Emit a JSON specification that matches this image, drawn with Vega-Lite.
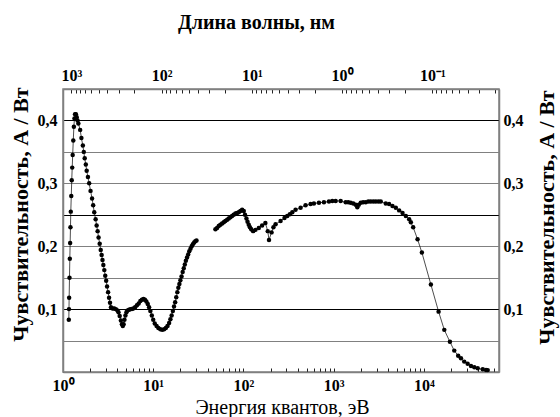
{
  "$schema": "https://vega.github.io/schema/vega-lite/v6.json",
  "width": 436,
  "height": 283,
  "autosize": {"type": "none"},
  "padding": {"left": 63, "top": 89, "right": 61, "bottom": 45},
  "background": "white",
  "config": {"view": {"stroke": "#808080", "strokeWidth": 1.5}, "font": "Liberation Serif"},
  "data": {"values": [
    {"E":1.16,"S":0.083,"seg":"a"},{"E":1.165,"S":0.100,"seg":"a"},{"E":1.17,"S":0.118,"seg":"a"},{"E":1.18,"S":0.150,"seg":"a"},{"E":1.19,"S":0.18,"seg":"a"},{"E":1.20,"S":0.205,"seg":"a"},{"E":1.21,"S":0.23,"seg":"a"},{"E":1.22,"S":0.255,"seg":"a"},{"E":1.235,"S":0.28,"seg":"a"},{"E":1.25,"S":0.305,"seg":"a"},{"E":1.265,"S":0.325,"seg":"a"},{"E":1.28,"S":0.345,"seg":"a"},{"E":1.30,"S":0.368,"seg":"a"},{"E":1.32,"S":0.39,"seg":"a"},{"E":1.34,"S":0.403,"seg":"a"},{"E":1.36,"S":0.41,"seg":"a"},{"E":1.39,"S":0.41,"seg":"a"},{"E":1.42,"S":0.405,"seg":"a"},
    {"E":1.45,"S":0.40,"seg":"a"},{"E":1.48,"S":0.395,"seg":"a"},{"E":1.55,"S":0.385,"seg":"a"},{"E":1.60,"S":0.372,"seg":"a"},{"E":1.66,"S":0.36,"seg":"a"},{"E":1.70,"S":0.35,"seg":"a"},{"E":1.74,"S":0.34,"seg":"a"},{"E":1.79,"S":0.33,"seg":"a"},{"E":1.83,"S":0.32,"seg":"a"},{"E":1.89,"S":0.31,"seg":"a"},{"E":1.95,"S":0.30,"seg":"a"},{"E":2.02,"S":0.288,"seg":"a"},{"E":2.10,"S":0.276,"seg":"a"},{"E":2.16,"S":0.265,"seg":"a"},{"E":2.22,"S":0.254,"seg":"a"},{"E":2.30,"S":0.243,"seg":"a"},{"E":2.36,"S":0.233,"seg":"a"},{"E":2.42,"S":0.224,"seg":"a"},{"E":2.48,"S":0.214,"seg":"a"},{"E":2.55,"S":0.204,"seg":"a"},{"E":2.62,"S":0.194,"seg":"a"},{"E":2.68,"S":0.186,"seg":"a"},{"E":2.74,"S":0.178,"seg":"a"},{"E":2.80,"S":0.170,"seg":"a"},{"E":2.87,"S":0.162,"seg":"a"},{"E":2.94,"S":0.153,"seg":"a"},{"E":3.01,"S":0.145,"seg":"a"},{"E":3.08,"S":0.136,"seg":"a"},{"E":3.16,"S":0.127,"seg":"a"},{"E":3.24,"S":0.118,"seg":"a"},{"E":3.32,"S":0.110,"seg":"a"},{"E":3.40,"S":0.103,"seg":"a"},
    {"E":3.55,"S":0.101,"seg":"a"},{"E":3.70,"S":0.101,"seg":"a"},{"E":3.85,"S":0.100,"seg":"a"},{"E":4.00,"S":0.098,"seg":"a"},{"E":4.12,"S":0.095,"seg":"a"},{"E":4.25,"S":0.089,"seg":"a"},{"E":4.38,"S":0.082,"seg":"a"},{"E":4.50,"S":0.076,"seg":"a"},{"E":4.60,"S":0.073,"seg":"a"},{"E":4.70,"S":0.076,"seg":"a"},{"E":4.80,"S":0.083,"seg":"a"},{"E":4.92,"S":0.090,"seg":"a"},{"E":5.05,"S":0.095,"seg":"a"},{"E":5.20,"S":0.098,"seg":"a"},{"E":5.40,"S":0.099,"seg":"a"},{"E":5.60,"S":0.100,"seg":"a"},{"E":5.80,"S":0.100,"seg":"a"},{"E":6.00,"S":0.101,"seg":"a"},{"E":6.30,"S":0.103,"seg":"a"},{"E":6.60,"S":0.106,"seg":"a"},{"E":6.90,"S":0.109,"seg":"a"},{"E":7.20,"S":0.113,"seg":"a"},{"E":7.50,"S":0.115,"seg":"a"},{"E":7.80,"S":0.116,"seg":"a"},{"E":8.10,"S":0.115,"seg":"a"},{"E":8.40,"S":0.112,"seg":"a"},{"E":8.70,"S":0.108,"seg":"a"},{"E":9.00,"S":0.103,"seg":"a"},{"E":9.30,"S":0.097,"seg":"a"},{"E":9.65,"S":0.090,"seg":"a"},{"E":10.0,"S":0.083,"seg":"a"},{"E":10.4,"S":0.077,"seg":"a"},{"E":10.9,"S":0.073,"seg":"a"},{"E":11.4,"S":0.070,"seg":"a"},{"E":12.0,"S":0.068,"seg":"a"},{"E":12.6,"S":0.067,"seg":"a"},{"E":13.2,"S":0.068,"seg":"a"},{"E":13.8,"S":0.070,"seg":"a"},{"E":14.4,"S":0.073,"seg":"a"},{"E":15.0,"S":0.078,"seg":"a"},{"E":15.5,"S":0.084,"seg":"a"},{"E":16.0,"S":0.090,"seg":"a"},{"E":16.5,"S":0.097,"seg":"a"},{"E":17.0,"S":0.104,"seg":"a"},{"E":17.5,"S":0.111,"seg":"a"},{"E":18.0,"S":0.119,"seg":"a"},{"E":18.5,"S":0.127,"seg":"a"},{"E":19.0,"S":0.134,"seg":"a"},{"E":19.5,"S":0.140,"seg":"a"},{"E":20.0,"S":0.146,"seg":"a"},{"E":20.6,"S":0.152,"seg":"a"},{"E":21.2,"S":0.159,"seg":"a"},{"E":21.8,"S":0.165,"seg":"a"},{"E":22.4,"S":0.171,"seg":"a"},{"E":23.0,"S":0.177,"seg":"a"},{"E":23.7,"S":0.182,"seg":"a"},{"E":24.4,"S":0.187,"seg":"a"},{"E":25.1,"S":0.192,"seg":"a"},{"E":25.9,"S":0.196,"seg":"a"},{"E":26.7,"S":0.200,"seg":"a"},{"E":27.5,"S":0.203,"seg":"a"},{"E":28.4,"S":0.206,"seg":"a"},{"E":29.3,"S":0.208,"seg":"a"},{"E":30.2,"S":0.209,"seg":"a"},
    {"E":48.9,"S":0.227,"seg":"b"},{"E":51,"S":0.229,"seg":"b"},{"E":53.2,"S":0.232,"seg":"b"},{"E":55.5,"S":0.234,"seg":"b"},{"E":58,"S":0.236,"seg":"b"},{"E":60.5,"S":0.238,"seg":"b"},{"E":63,"S":0.240,"seg":"b"},{"E":66,"S":0.242,"seg":"b"},{"E":68.7,"S":0.244,"seg":"b"},{"E":71.7,"S":0.246,"seg":"b"},{"E":74.8,"S":0.248,"seg":"b"},{"E":78,"S":0.250,"seg":"b"},{"E":81.5,"S":0.252,"seg":"b"},{"E":85,"S":0.253,"seg":"b"},{"E":88.7,"S":0.254,"seg":"b"},{"E":92.5,"S":0.256,"seg":"b"},{"E":96.7,"S":0.258,"seg":"b"},{"E":100.8,"S":0.256,"seg":"b"},{"E":104,"S":0.250,"seg":"b"},{"E":108,"S":0.244,"seg":"b"},{"E":111,"S":0.239,"seg":"b"},{"E":114.5,"S":0.234,"seg":"b"},{"E":118,"S":0.230,"seg":"b"},{"E":122,"S":0.227,"seg":"b"},{"E":128,"S":0.224,"seg":"b"},{"E":136,"S":0.226,"seg":"b"},{"E":148,"S":0.229,"seg":"b"},{"E":161,"S":0.233,"seg":"b"},{"E":175,"S":0.237,"seg":"b"},{"E":186,"S":0.224,"seg":"b"},{"E":192,"S":0.210,"seg":"b"},{"E":205,"S":0.222,"seg":"b"},{"E":215,"S":0.230,"seg":"b"},{"E":227,"S":0.235,"seg":"b"},{"E":258,"S":0.240,"seg":"b"},{"E":285,"S":0.245,"seg":"b"},{"E":306,"S":0.248,"seg":"b"},{"E":327,"S":0.251,"seg":"b"},{"E":348,"S":0.254,"seg":"b"},{"E":378,"S":0.258,"seg":"b"},{"E":430,"S":0.261,"seg":"b"},{"E":488,"S":0.265,"seg":"b"},{"E":555,"S":0.267,"seg":"b"},{"E":604,"S":0.268,"seg":"b"},{"E":687,"S":0.269,"seg":"b"},{"E":780,"S":0.270,"seg":"b"},{"E":887,"S":0.271,"seg":"b"},{"E":966,"S":0.272,"seg":"b"},{"E":1052,"S":0.272,"seg":"b"},{"E":1196,"S":0.272,"seg":"b"},{"E":1360,"S":0.270,"seg":"b"},{"E":1450,"S":0.270,"seg":"b"},{"E":1545,"S":0.269,"seg":"b"},{"E":1650,"S":0.268,"seg":"b"},{"E":1755,"S":0.266,"seg":"b"},{"E":1830,"S":0.262,"seg":"b"},{"E":1900,"S":0.266,"seg":"b"},{"E":1995,"S":0.269,"seg":"b"},{"E":2120,"S":0.270,"seg":"b"},{"E":2268,"S":0.270,"seg":"b"},{"E":2420,"S":0.271,"seg":"b"},{"E":2576,"S":0.271,"seg":"b"},{"E":2750,"S":0.271,"seg":"b"},{"E":2930,"S":0.271,"seg":"b"},{"E":3130,"S":0.271,"seg":"b"},{"E":3327,"S":0.271,"seg":"b"},{"E":3780,"S":0.268,"seg":"b"},{"E":4115,"S":0.267,"seg":"b"},{"E":4485,"S":0.264,"seg":"b"},{"E":4885,"S":0.261,"seg":"b"},{"E":5320,"S":0.257,"seg":"b"},{"E":5800,"S":0.253,"seg":"b"},{"E":6310,"S":0.248,"seg":"b"},{"E":6870,"S":0.243,"seg":"b"},{"E":7170,"S":0.238,"seg":"b"},{"E":7610,"S":0.230,"seg":"b"},{"E":8510,"S":0.211,"seg":"b"},{"E":9500,"S":0.190,"seg":"b"},{"E":11960,"S":0.139,"seg":"b"},{"E":14550,"S":0.096,"seg":"b"},{"E":16830,"S":0.067,"seg":"b"},{"E":19440,"S":0.048,"seg":"b"},{"E":21700,"S":0.034,"seg":"b"},{"E":24000,"S":0.026,"seg":"b"},{"E":25760,"S":0.022,"seg":"b"},{"E":28000,"S":0.0165,"seg":"b"},{"E":30560,"S":0.013,"seg":"b"},{"E":33270,"S":0.0096,"seg":"b"},{"E":36200,"S":0.0075,"seg":"b"},{"E":39500,"S":0.006,"seg":"b"},{"E":44900,"S":0.0043,"seg":"b"},{"E":48860,"S":0.0032,"seg":"b"},{"E":51000,"S":0.003,"seg":"b"}
  ]},
  "layer": [
    {
      "mark": {"type": "line", "color": "black", "strokeWidth": 0.7},
      "encoding": {
        "detail": {"field": "seg"},
        "x": {"field": "E", "type": "quantitative", "scale": {"type": "log", "domain": [1, 68000], "nice": false},
          "axis": {"orient": "bottom", "values": [1,2,3,4,5,6,7,8,9,10,20,30,40,50,60,70,80,90,100,200,300,400,500,600,700,800,900,1000,2000,3000,4000,5000,6000,7000,8000,9000,10000,20000,30000,40000,50000,60000],
            "labelExpr": "datum.value===1?'10⁰':datum.value===10?'10¹':datum.value===100?'10²':datum.value===1000?'10³':datum.value===10000?'10⁴':''",
            "tickSize": -4, "tickColor": "#222", "tickWidth": 1, "grid": false,
            "domainColor": "#808080", "domainWidth": 1.5,
            "labelFont": "Liberation Serif", "labelFontWeight": "bold", "labelFontSize": 16, "labelColor": "black",
            "labelBaseline": "alphabetic", "labelPadding": 22, "labelOverlap": false, "labelFlush": false,
            "title": "Энергия квантов, эВ", "titleFont": "Liberation Serif", "titleFontSize": 20, "titleFontWeight": "normal", "titleColor": "black",
            "titleX": 219, "titleY": 41, "titleAlign": "center", "titleBaseline": "alphabetic"}},
        "y": {"field": "S", "type": "quantitative", "scale": {"domain": [0, 0.45], "nice": false, "zero": false},
          "axis": {"orient": "left", "values": [0.05,0.1,0.15,0.2,0.25,0.3,0.35,0.4],
            "labelExpr": "indexof([0.1,0.2,0.3,0.4], datum.value) >= 0 ? replace(format(datum.value, '.1f'), '.', ',') : ''",
            "grid": true, "gridColor": {"condition": {"test": "datum.value===0.1||datum.value===0.25||datum.value===0.4", "value": "#000000"}, "value": "#808080"}, "gridWidth": 1.2,
            "ticks": false, "domainColor": "#808080", "domainWidth": 1.5,
            "labelFont": "Liberation Serif", "labelFontWeight": "bold", "labelFontSize": 16, "labelColor": "black", "labelPadding": 6, "labelOverlap": false,
            "title": "Чувствительность, А / Вт", "titleFont": "Liberation Serif", "titleFontSize": 22, "titleFontWeight": "bold", "titleColor": "black",
            "titleX": -43, "titleY": 125, "titleAngle": -90, "titleAlign": "center", "titleBaseline": "middle"}}
      }
    },
    {
      "mark": {"type": "point", "filled": true, "color": "black", "size": 20, "opacity": 1},
      "encoding": {
        "x": {"field": "E", "type": "quantitative", "scale": {"type": "log", "domain": [1, 68000], "nice": false},
          "axis": {"orient": "top", "values": [1.24,1.378,1.55,1.771,2.067,2.48,3.1,4.133,6.2,12.4,13.78,15.5,17.71,20.67,24.8,31,41.33,62,124,137.8,155,177.1,206.7,248,310,413.3,620,1240,1377.8,1550,1771.4,2066.7,2480,3100,4133.3,6200,12400,13778,15500,17714,20667,24800,31000,41333,62000],
            "labelExpr": "datum.value===1.24?'10³':datum.value===12.4?'10²':datum.value===124?'10¹':datum.value===1240?'10⁰':datum.value===12400?'10⁻¹':''",
            "tickSize": -4, "tickColor": "#222", "tickWidth": 1, "grid": false,
            "domainColor": "#808080", "domainWidth": 1.5,
            "labelFont": "Liberation Serif", "labelFontWeight": "bold", "labelFontSize": 16, "labelColor": "black",
            "labelBaseline": "alphabetic", "labelPadding": 13, "labelOverlap": false, "labelFlush": false,
            "title": "Длина волны, нм", "titleFont": "Liberation Serif", "titleFontSize": 20, "titleFontWeight": "bold", "titleColor": "black",
            "titleX": 193, "titleY": -61, "titleAlign": "center", "titleBaseline": "alphabetic"}},
        "y": {"field": "S", "type": "quantitative", "scale": {"domain": [0, 0.45], "nice": false, "zero": false},
          "axis": {"orient": "right", "values": [0.05,0.1,0.15,0.2,0.25,0.3,0.35,0.4],
            "labelExpr": "indexof([0.1,0.2,0.3,0.4], datum.value) >= 0 ? replace(format(datum.value, '.1f'), '.', ',') : ''",
            "grid": false, "ticks": false, "domainColor": "#808080", "domainWidth": 1.5,
            "labelFont": "Liberation Serif", "labelFontWeight": "bold", "labelFontSize": 16, "labelColor": "black", "labelPadding": 4, "labelOverlap": false,
            "title": "Чувствительность, А / Вт", "titleFont": "Liberation Serif", "titleFontSize": 22, "titleFontWeight": "bold", "titleColor": "black",
            "titleX": 47, "titleY": 128, "titleAngle": -90, "titleAlign": "center", "titleBaseline": "middle"}}
      }
    }
  ],
  "resolve": {"axis": {"x": "independent", "y": "independent"}}
}
